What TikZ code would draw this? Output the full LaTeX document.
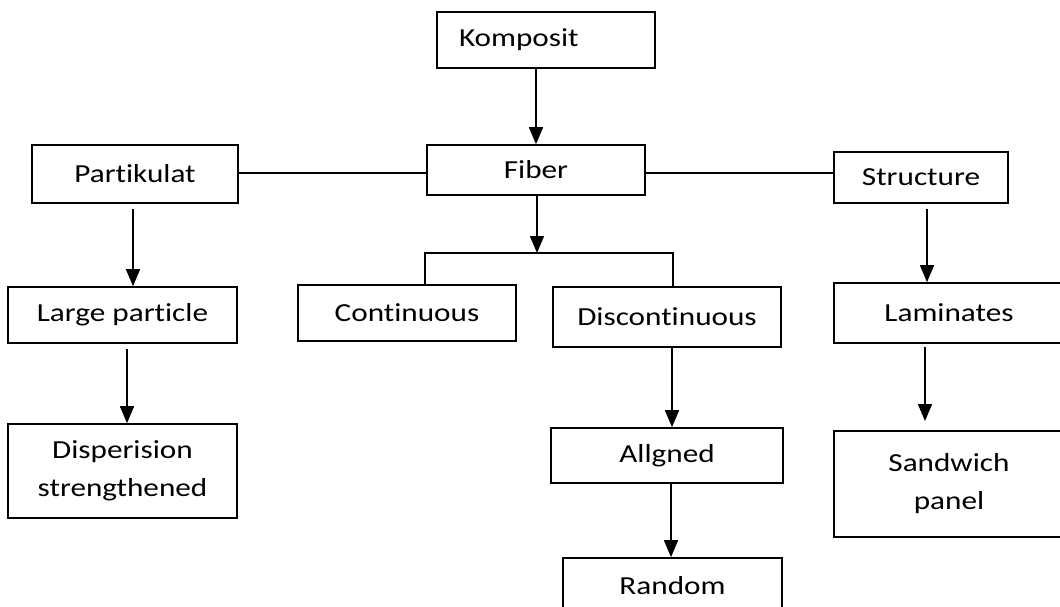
\documentclass[tikz,border=0pt]{standalone}
\usepackage{fontspec}
\setmainfont[FakeStretch=1.2, Ligatures={NoCommon,NoRare,NoContextual}]{Carlito}
\usetikzlibrary{arrows.meta,positioning,calc}

\begin{document}
\begin{tikzpicture}[
        x=1pt, y=-1pt,
        box/.style={draw, line width=1.6pt, minimum width=218pt, minimum height=56pt, align=center, inner sep=0pt, font=\fontsize{26}{38}\selectfont},
        arr/.style={-{Triangle[width=14pt,length=17pt]}, line width=1.5pt},
        link/.style={line width=1.5pt}
    ]
    \useasboundingbox (0,0) rectangle (1060,606);
    \clip (0,0) rectangle (1060,606);

    % top level
    \node[box, text width=174pt, align=left, inner xsep=22pt] (komp) at (546,40) {Komposit};
    \node[box, minimum height=50pt] (fiber) at (536,170) {Fiber};
    \node[box, minimum width=206pt, minimum height=58pt] (part) at (135,174) {Partikulat};
    \node[box, minimum width=174pt, minimum height=51pt] (struc) at (921,177.5) {Structure};

    % second level
    \node[box, minimum width=229pt] (lp) at (122.5,315) {Large particle};
    \node[box] (cont) at (407,313) {Continuous};
    \node[box, minimum width=228pt, minimum height=60pt] (disc) at (667,317) {Discontinuous};
    \node[box, minimum width=230pt, minimum height=60pt] (lam) at (949,313) {Laminates};

    % third level
    \node[box, minimum width=229pt, minimum height=94pt] (disp) at (122.5,471) {Disperision\\strengthened};
    \node[box, minimum width=232pt, minimum height=55pt] (alg) at (667,455.5) {Allgned};
    \node[box, minimum width=230pt, minimum height=106pt] (sand) at (949,484) {Sandwich\\panel};
    \node[box, minimum width=219pt] (rnd) at (672.5,586) {Random};

    \coordinate (split) at (537,253);
    \coordinate (jl) at (425,253);
    \coordinate (jr) at (673,253);
    \coordinate (mid) at (536,173);

    \draw[arr] (komp.south -| fiber) -- (fiber.north);
    \draw[link] (part.east |- mid) -- (fiber.west |- mid);
    \draw[link] (fiber.east |- mid) -- (struc.west |- mid);
    \draw[arr] (fiber.south -| split) -- (split);
    \draw[link] (jl |- cont.north) -- (jl) -- (jr) -- (jr |- disc.north);

    \draw[arr, shorten <=5pt] (part.south -| 133,0) -- (lp.north -| 133,0);
    \draw[arr, shorten <=5pt] (lp.south -| 127,0) -- (disp.north -| 127,0);
    \draw[arr, shorten <=5pt] (struc.south -| 927,0) -- (lam.north -| 927,0);
    \draw[arr, shorten <=3pt] (lam.south -| 925,0) -- (425,421 -| 925,0);
    \draw[arr] (disc.south -| 672,0) -- (alg.north -| 672,0);
    \draw[arr] (alg.south -| 671,0) -- (rnd.north -| 671,0);
\end{tikzpicture}
\end{document}
